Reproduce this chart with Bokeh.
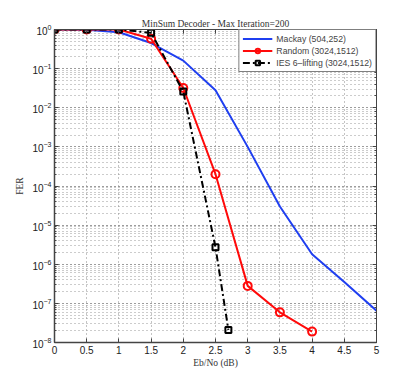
from bokeh.plotting import figure
from bokeh.models import LogAxis, LinearAxis, Legend, LegendItem, FixedTicker, Range1d, CustomJSTickFormatter
from bokeh.embed import file_html
from bokeh.resources import INLINE

# Data
ebno_mackay = [0, 0.5, 1, 1.5, 2, 2.5, 3, 3.5, 4, 4.5, 5]
fer_mackay = [1.0, 0.98, 0.85, 0.45, 0.16, 0.028, 1.0e-3, 3.0e-5, 1.8e-6, 3.5e-7, 6.5e-8]

ebno_random = [0, 0.5, 1, 1.5, 2, 2.5, 3, 3.5, 4]
fer_random = [1.0, 1.0, 1.0, 0.58, 0.032, 2.0e-4, 2.8e-7, 5.9e-8, 1.9e-8]

ebno_ies = [0, 0.5, 1, 1.5, 2, 2.5, 2.7]
fer_ies = [1.0, 1.0, 1.0, 0.82, 0.026, 2.7e-6, 2.1e-8]

x_ticks = [0, 0.5, 1, 1.5, 2, 2.5, 3, 3.5, 4, 4.5, 5]
title_text = "MinSum Decoder - Max Iteration=200"
x_label = "Eb/No (dB)"
y_label = "FER"
names = ["Mackay (504,252)", "Random (3024,1512)", "IES 6\u2013lifting (3024,1512)"]

p = figure(width=407, height=377, y_axis_type="log", output_backend="svg",
           toolbar_location=None, x_range=Range1d(0, 5), y_range=Range1d(1e-8, 1),
           min_border_left=54, min_border_right=31, min_border_bottom=35, min_border_top=29)

p.title.text = title_text
p.title.text_font = "Liberation Serif"
p.title.text_font_style = "normal"
p.title.text_font_size = "9.5px"
p.title.align = "center"
p.title.text_color = "#333333"
p.title.standoff = 2
p.title.offset = 0

p.outline_line_color = "#333333"
p.outline_line_width = 1

for ax in [p.xaxis[0], p.yaxis[0]]:
    ax.major_tick_in = 4
    ax.major_tick_out = 0
    ax.minor_tick_in = 2
    ax.minor_tick_out = 0
    ax.axis_line_color = "#444444"
    ax.axis_line_width = 1.5
    ax.major_tick_line_color = "#444444"
    ax.minor_tick_line_color = "#444444"
    ax.major_label_text_font = "Liberation Sans"
    ax.major_label_text_font_size = "10px"
    ax.major_label_text_color = "#222222"
    ax.axis_label_text_font = "Liberation Serif"
    ax.axis_label_text_font_style = "normal"
    ax.axis_label_text_font_size = "9.5px"
    ax.axis_label_text_color = "#333333"

p.xaxis[0].ticker = FixedTicker(ticks=x_ticks)
p.xaxis[0].minor_tick_in = 0
p.xaxis[0].axis_label = x_label
p.xaxis[0].axis_label_standoff = 1
p.xaxis[0].major_label_standoff = 3
p.yaxis[0].axis_label = y_label
p.yaxis[0].axis_label_standoff = 4
p.yaxis[0].major_label_standoff = 3

blank = CustomJSTickFormatter(code="return ''")
blank2 = CustomJSTickFormatter(code="return ''")
top_ax = LinearAxis(ticker=FixedTicker(ticks=x_ticks), formatter=blank,
                    major_tick_in=4, major_tick_out=0, minor_tick_in=0, minor_tick_out=0,
                    axis_line_color="#444444", major_tick_line_color="#444444")
right_ax = LogAxis(formatter=blank2, major_tick_in=4, major_tick_out=0,
                   minor_tick_in=2, minor_tick_out=0, axis_line_color="#444444",
                   major_tick_line_color="#444444", minor_tick_line_color="#444444")
p.add_layout(top_ax, "above")
p.add_layout(right_ax, "right")

p.xgrid.grid_line_color = "#888888"
p.xgrid.grid_line_dash = "1 3"
p.xgrid.grid_line_width = 1
p.ygrid.grid_line_color = "#888888"
p.ygrid.grid_line_dash = "1 3"
p.ygrid.minor_grid_line_color = "#999999"
p.ygrid.minor_grid_line_dash = "1 3"

r1 = p.line(ebno_mackay, fer_mackay, line_color="#1f3ff0", line_width=2)
r2 = p.line(ebno_random, fer_random, line_color="#ff0a0a", line_width=2)
r2m = p.scatter(ebno_random, fer_random, marker="circle", size=8, fill_color=None,
                line_color="#ff0a0a", line_width=2)
r3 = p.line(ebno_ies, fer_ies, line_color="black", line_width=2, line_dash="7 3 2 3")
r3m = p.scatter(ebno_ies, fer_ies, marker="square", size=6, fill_color=None,
                line_color="black", line_width=2)

legend = Legend(items=[LegendItem(label=names[0], renderers=[r1]),
                       LegendItem(label=names[1], renderers=[r2, r2m]),
                       LegendItem(label=names[2], renderers=[r3, r3m])],
                location="top_right")
legend.label_text_font = "Liberation Sans"
legend.label_text_font_size = "8.7px"
legend.label_height = 11
legend.glyph_height = 11
legend.glyph_width = 30
legend.spacing = 1
legend.padding = 3
legend.margin = 0
legend.label_standoff = 4
legend.border_line_color = "black"
legend.border_line_width = 1
legend.background_fill_alpha = 1
p.add_layout(legend)

open("out.html", "w").write(file_html(p, INLINE))
